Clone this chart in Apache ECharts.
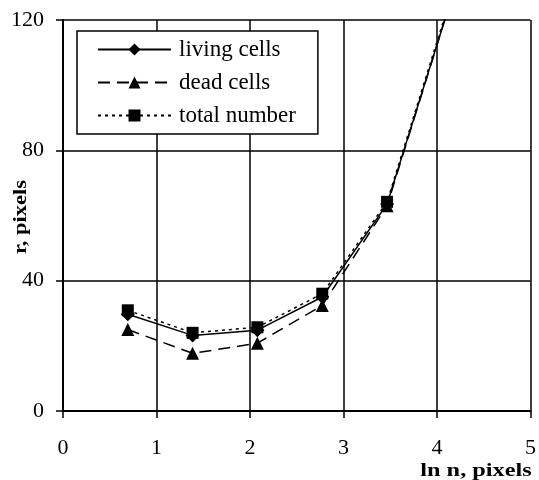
<!DOCTYPE html>
<html><head><meta charset="utf-8">
<script src="https://cdn.jsdelivr.net/npm/echarts@6/dist/echarts.min.js"></script>
<style>html,body{margin:0;padding:0;background:#fff}#c{width:539px;height:480px}</style>
</head><body><div id="c"></div>
<script>
const lnN = [0.693, 1.386, 2.079, 2.773, 3.466, 4.159];
const living = [29.7, 23.2, 24.8, 35, 63.5, 127];
const dead = [25, 17.7, 20.8, 32.4, 63, 127];
const total = [30.9, 24, 25.7, 36, 64.2, 128];
const xTicks = [0, 1, 2, 3, 4, 5];
const yTicks = [0, 40, 80, 120];
const seriesNames = ['living cells', 'dead cells', 'total number'];

const F = 'Liberation Serif, Times New Roman, serif';
const pair = (ys) => lnN.map((x, i) => [x, ys[i]]);
const chart = echarts.init(document.getElementById('c'), null, {renderer: 'canvas'});
chart.setOption({
  animation: false,
  grid: {left: 63, right: 7, top: 20, bottom: 69},
  xAxis: {
    type: 'value', min: xTicks[0], max: xTicks[xTicks.length - 1], interval: 1,
    axisLine: {show: true, lineStyle: {color: '#000', width: 2}},
    axisTick: {show: true, length: 7, lineStyle: {color: '#000', width: 1.5}},
    axisLabel: {color: '#000', fontFamily: F, fontSize: 22, margin: 26},
    splitLine: {show: true, showMinLine: true, showMaxLine: true, lineStyle: {color: '#000', width: 1.5}}
  },
  yAxis: {
    type: 'value', min: yTicks[0], max: yTicks[yTicks.length - 1], interval: 40,
    axisLine: {show: true, lineStyle: {color: '#000', width: 2}},
    axisTick: {show: true, length: 7, lineStyle: {color: '#000', width: 1.5}},
    axisLabel: {color: '#000', fontFamily: F, fontSize: 22, margin: 19},
    splitLine: {show: true, showMinLine: true, showMaxLine: true, lineStyle: {color: '#000', width: 1.5}}
  },
  legend: {
    orient: 'vertical', left: 77, top: 31,
    data: seriesNames,
    backgroundColor: '#fff', borderColor: '#000', borderWidth: 1.5,
    padding: [7, 22, 7, 20], itemGap: 10,
    itemWidth: 73, itemHeight: 15,
    textStyle: {color: '#000', fontFamily: F, fontSize: 23, padding: [0, 0, 0, 3]}
  },
  graphic: [
    {type: 'text', x: 21, y: 217, rotation: Math.PI / 2, scaleX: 1.25,
     style: {text: 'r, pixels', font: 'bold 18px ' + F, fill: '#000', align: 'center', verticalAlign: 'middle'}},
    {type: 'text', x: 476, y: 471, scaleX: 1.28,
     style: {text: 'ln n, pixels', font: 'bold 19px ' + F, fill: '#000', align: 'center', verticalAlign: 'middle'}}
  ],
  series: [
    {name: seriesNames[0], type: 'line', data: pair(living), clip: true,
     symbol: 'diamond', symbolSize: 14, color: '#000',
     lineStyle: {color: '#000', width: 1.5, type: 'solid'}, itemStyle: {color: '#000'}},
    {name: seriesNames[1], type: 'line', data: pair(dead), clip: true,
     symbol: 'triangle', symbolSize: 13, color: '#000',
     lineStyle: {color: '#000', width: 1.5, type: [12, 7]}, itemStyle: {color: '#000'}},
    {name: seriesNames[2], type: 'line', data: pair(total), clip: true,
     symbol: 'rect', symbolSize: 12, color: '#000',
     lineStyle: {color: '#000', width: 1.5, type: [3, 4]}, itemStyle: {color: '#000'}}
  ]
});
</script></body></html>
